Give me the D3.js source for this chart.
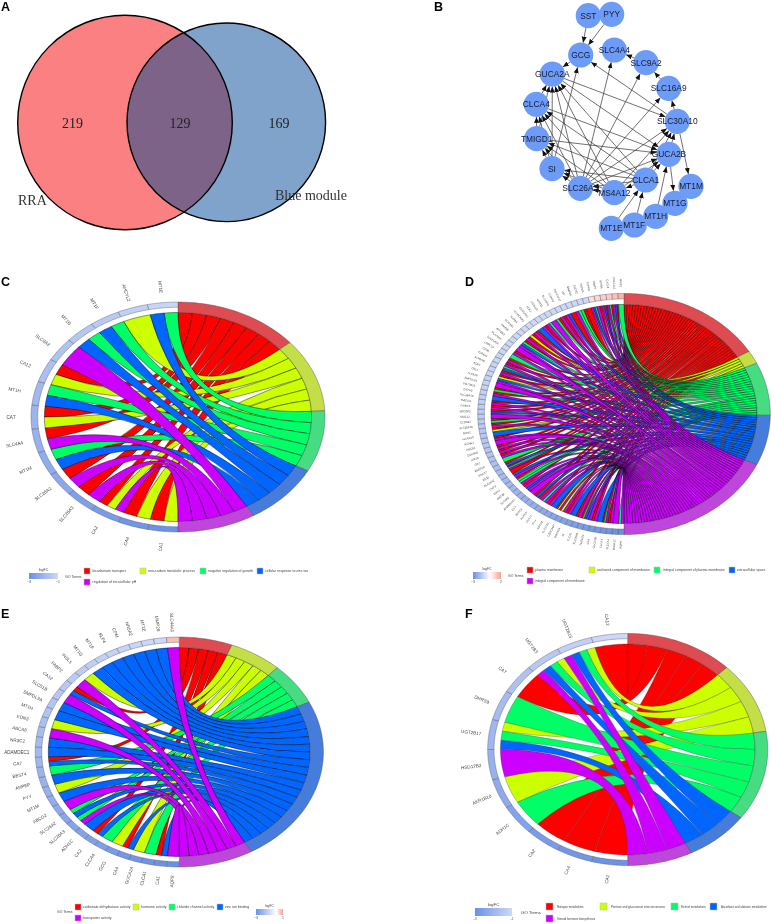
<!DOCTYPE html>
<html><head><meta charset="utf-8">
<script src="https://cdnjs.cloudflare.com/ajax/libs/d3/7.8.5/d3.min.js"></script>
<style>
html,body{margin:0;padding:0;background:#fff}
svg{display:block;filter:blur(0.35px)}
text{font-family:"Liberation Sans",Arial,sans-serif}
</style></head><body><svg id="fig" width="771" height="924"></svg>
<script>
/* ---------- Panel A: Venn ---------- */
const vennCounts = [219, 129, 169];
const vennLabels = ["RRA", "Blue module"];

/* ---------- Panel B: network ---------- */
const netNodes = ["SST","PYY","GCG","SLC4A4","SLC9A2","GUCA2A","SLC16A9","CLCA4","SLC30A10","TMIGD1","GUCA2B","SI","SLC26A3","MS4A12","CLCA1","MT1M","MT1G","MT1H","MT1F","MT1E"];
const netEdges = [
 ["SST","GCG"],["PYY","GCG"],["GCG","GUCA2A"],["SLC9A2","SLC4A4"],["SLC16A9","SLC9A2"],["SLC30A10","SLC16A9"],["SLC30A10","GCG"],
 ["CLCA4","GUCA2A"],["TMIGD1","GUCA2A"],["TMIGD1","CLCA4"],["SI","TMIGD1"],["SI","CLCA4"],["SI","GUCA2A"],["SI","GCG"],
 ["SLC26A3","SI"],["SLC26A3","TMIGD1"],["SLC26A3","CLCA4"],["SLC26A3","GUCA2A"],["SLC26A3","SLC4A4"],["SLC26A3","SLC9A2"],["SLC26A3","SLC16A9"],["SLC26A3","SLC30A10"],["SLC26A3","GUCA2B"],
 ["MS4A12","SLC26A3"],["MS4A12","SI"],["MS4A12","TMIGD1"],["MS4A12","CLCA4"],["MS4A12","GUCA2A"],["MS4A12","SLC30A10"],["MS4A12","GUCA2B"],
 ["CLCA1","MS4A12"],["CLCA1","SLC26A3"],["CLCA1","SI"],["CLCA1","TMIGD1"],["CLCA1","CLCA4"],["CLCA1","GUCA2A"],["CLCA1","GUCA2B"],["CLCA1","SLC30A10"],
 ["GUCA2B","SLC30A10"],["GUCA2A","GUCA2B"],["GUCA2A","SLC30A10"],["CLCA4","GUCA2B"],["TMIGD1","GUCA2B"],["SLC30A10","MT1M"],["GUCA2B","MT1G"],
 ["MT1H","GUCA2B"],["MT1F","CLCA1"],["MT1E","CLCA1"]
];

/* ---------- Panel C ---------- */
const termsC = ["bicarbonate transport","one-carbon metabolic process","negative regulation of growth","cellular response to zinc ion","regulation of intracellular pH"];
const genesC = ["CA1","CA4","CA2","SLC26A3","SLC26A2","MT1M","SLC4A4","CA7","MT1H","CA12","SLC9A2","MT1G","MT1F","AHCYL2","MT1E"];
const linksC = ["yr","yr","pyr","pr","pr","bg","pr","yr","bg","yr","p","bg","bg","y","bg"];
const logfcC = [-2.95,-2.85,-2.7,-2.6,-2.35,-2.25,-2.1,-2,-1.9,-1.7,-1.6,-1.5,-1.4,-1.25,-1.1];

/* ---------- Panel D ---------- */
const termsD = ["plasma membrane","anchored component of membrane","integral component of plasma membrane","extracellular space","integral component of membrane"];
const genesD = ["AQP8","MS4A12","SLC4A4","CLCA4","GUCA2B","CA4","TMEM72","SLC26A3","CLCA1","SI","GUCA2A","CEACAM7","SLC17A4","ABCG2","PYY","CD177","ANPEP","BEST4","CA7","ADAMDEC1","SLC9A2","ABCA8","EDN3","CHP2","SLC26A2","ZG16","HHLA2","ENTPD5","GP2","ITM2C","CDKN2B","ABCB1","KCNB2","SLC6A19","PADI2","SLC30A10","CLDN23","MUC12","SDCBP2","GCNT2","TMIGD1","SLC38A10","CNTN3","UGT2B15","SMPDL3A","SLC51B","CA12","AQP1","SCNN1B","TSPAN7","CD36","LRRC19","SLC25A34","PLA2G10","ATP2A3","FAM3B","SCARA5","NXPE4","HEPACAM2","CEACAM1","PCK1","LGALS2","GPR15","SLC16A9","CWH43","TNFRSF17","VIP","MMP28","CLCN2","TRPM6","PTPRH","MMP7","INHBA","CXCL8","COL11A1","MMP1"];
const linksD = ["pg","p","pr","pgr","b","pr","pb","pgr","pr","b",
 "pr","py","pyr","b","pr","pg","pr","br","p","pb",
 "pr","pg","gr","pb","r","pgr","br","g","pr","pr",
 "pr","p","pr","b","yr","pr","gr","p","br","pr",
 "pr","b","pr","gr","p","pb","yr","pr","gb","pr",
 "pr","g","pr","p","pb","gr","pr","yr","pr","b",
 "pr","pg","p","gr","pr","pb","r","pg","gr","r",
 "pbg","pr","pbr","pgr","pbr","g"];
const logfcD = [-3,-2.95,-2.9,-2.85,-2.8,-2.75,-2.7,-2.65,-2.6,-2.55,-2.5,-2.45,-2.4,-2.35,-2.3,-2.25,-2.2,-2.15,-2.1,-2.05,-2,-1.95,-1.9,-1.85,-1.8,-1.75,-1.7,-1.65,-1.6,-1.58,-1.55,-1.5,-1.48,-1.45,-1.42,-1.4,-1.38,-1.35,-1.32,-1.3,-1.28,-1.25,-1.22,-1.2,-1.18,-1.15,-1.13,-1.12,-1.1,-1.09,-1.08,-1.07,-1.06,-1.05,-1.04,-1.03,-1.02,-1.01,-1,-1,-1,-1,-1,-1,-1,-1,-1,-1,-1,-1,0.7,0.9,1,1.1,1.3,1.6];

/* ---------- Panel E ---------- */
const termsE = ["carbonate dehydratase activity","hormone activity","chloride channel activity","zinc ion binding","transporter activity"];
const genesE = ["AQP8","CA1","CLCA1","GUCA2A","CA4","GCG","CLCA4","CA2","ADH1C","SLC26A3","SLC26A2","ABCG2","MT1M","PYY","ANPEP","BEST4","CA7","ADAMDEC1","NR3C2","ABCA8","EDN3","MT1H","SMPDL3A","SLC51B","CA12","FABP2","INSL5","MT1G","MT1F","KLF4","CPM","NR5A2","MT1E","MMP28","SLC44A1"];
const linksE = ["p","br","g","y","br","y","g","br","b","pg","bg","p","b","y","b","g","br","b","b","p","y","b","b","p","br","p","y","b","b","b","b","b","b","b","p"];
const logfcE = [-3,-2.95,-2.9,-2.85,-2.8,-2.7,-2.6,-2.55,-2.5,-2.45,-2.4,-2.3,-2.2,-2.1,-2.05,-2,-1.95,-1.9,-1.8,-1.75,-1.7,-1.6,-1.55,-1.5,-1.45,-1.4,-1.35,-1.3,-1.25,-1.2,-1.15,-1.1,-1.05,-1,0.7];

/* ---------- Panel F ---------- */
const termsF = ["Nitrogen metabolism","Pentose and glucuronate interconversions","Retinol metabolism","Ascorbate and aldarate metabolism","Steroid hormone biosynthesis"];
const genesF = ["CA1","CA4","CA2","ADH1C","AKR1B10","HSD17B2","UGT2B17","DHRS9","CA7","UGT2B3","UGT2B15","CA12"];
const linksF = ["r","r","r","g","y","p","bgy","g","r","pbgy","pbgy","r"];
const logfcF = [-2.95,-2.85,-2.7,-2.5,-2.3,-2.1,-1.95,-1.8,-1.65,-1.45,-1.25,-1.05];

/* ---------- styles & layout (not data) ---------- */
const termKeys = "rygbp";
const ribbonColors = ["#FF0000","#CCFF00","#00FF66","#0066FF","#CC00FF"];
const bandColors = ["#DE4B50","#C3DE46","#46DC82","#467DDC","#BE46DC"];
const LOW="#6A90E6", MID="#FFFFFF", HIGH="#F8A294";

const svg = d3.select("#fig");
svg.append("defs");

function panelLetter(s,x,y){
  svg.append("text").attr("x",x).attr("y",y).text(s)
     .attr("font-size",12.5).attr("font-weight","bold").attr("fill","#000");
}
panelLetter("A",1,11); panelLetter("B",434,11);
panelLetter("C",1,286); panelLetter("D",465,286);
panelLetter("E",1,618); panelLetter("F",465,618);

/* ---- Venn ---- */
(function(){
  const g = svg.append("g");
  const totals = [vennCounts[0]+vennCounts[1], vennCounts[1]+vennCounts[2]];
  const rScale = d3.scaleSqrt().domain([0,totals[0]]).range([0,107.3]);
  const cs = [{x:125,y:122.5,r:rScale(totals[0]),f:"#FA8082"},{x:226.3,y:122.3,r:rScale(totals[1]),f:"#7FA3CB"}];
  svg.select("defs").append("clipPath").attr("id","vclip").append("circle").attr("cx",cs[0].x).attr("cy",cs[0].y).attr("r",cs[0].r);
  g.selectAll("circle.f").data(cs).join("circle").attr("class","f").attr("cx",d=>d.x).attr("cy",d=>d.y).attr("r",d=>d.r).attr("fill",d=>d.f);
  g.append("circle").attr("cx",cs[1].x).attr("cy",cs[1].y).attr("r",cs[1].r).attr("fill","#7D6388").attr("clip-path","url(#vclip)");
  g.selectAll("circle.s").data(cs).join("circle").attr("class","s").attr("cx",d=>d.x).attr("cy",d=>d.y).attr("r",d=>d.r).attr("fill","none").attr("stroke","#000").attr("stroke-width",1.4);
  const tx=[72.5,180,279];
  g.selectAll("text.n").data(vennCounts).join("text").attr("class","n").attr("x",(d,i)=>tx[i]).attr("y",128).attr("text-anchor","middle")
    .style("font-family","'Liberation Serif',serif").attr("font-size",14).attr("fill","#222").text(d=>d);
  const lx=[18,275], ly=[205,200];
  g.selectAll("text.l").data(vennLabels).join("text").attr("class","l").attr("x",(d,i)=>lx[i]).attr("y",(d,i)=>ly[i])
    .style("font-family","'Liberation Serif',serif").attr("font-size",14).attr("fill","#333").text(d=>d);
})();

/* ---- Network ---- */
(function(){
  const layout = {SST:[588.3,15.7],PYY:[611.7,14.3],GCG:[580.7,55],SLC4A4:[614.3,50],SLC9A2:[646,62.7],GUCA2A:[552.3,74],SLC16A9:[668.7,88.3],CLCA4:[536.3,104.3],SLC30A10:[677.3,121.3],TMIGD1:[536.7,138.7],GUCA2B:[669,154.3],SI:[552,168.7],CLCA1:[645.7,180],SLC26A3:[580.3,188.3],MS4A12:[614.3,192.7],MT1M:[691,186.3],MT1G:[675,203.3],MT1H:[655.7,216.3],MT1F:[634.3,225],MT1E:[611.3,228.3]};
  const R = 12.6;
  const x = d3.scaleIdentity(), y = d3.scaleIdentity();
  const g = svg.append("g");
  svg.select("defs").append("marker").attr("id","arr").attr("markerUnits","userSpaceOnUse")
    .attr("markerWidth",7).attr("markerHeight",6).attr("refX",6).attr("refY",2.5).attr("orient","auto")
    .append("path").attr("d","M0,0L6,2.5L0,5Z").attr("fill","#111");
  const edge = netEdges.map(([a,b])=>{
    const p=layout[a],q=layout[b],dx=q[0]-p[0],dy=q[1]-p[1],L=Math.hypot(dx,dy);
    return {x1:x(p[0]+dx/L*R),y1:y(p[1]+dy/L*R),x2:x(q[0]-dx/L*R),y2:y(q[1]-dy/L*R)};
  });
  const nd = netNodes.map(n=>({n,x:x(layout[n][0]),y:y(layout[n][1])}));
  g.selectAll("line").data(edge).join("line").attr("x1",d=>d.x1).attr("y1",d=>d.y1).attr("x2",d=>d.x2).attr("y2",d=>d.y2)
    .attr("stroke","#333").attr("stroke-width",0.7).attr("marker-end","url(#arr)");
  g.selectAll("circle").data(nd).join("circle").attr("cx",d=>d.x).attr("cy",d=>d.y).attr("r",R).attr("fill","#6C9CF8");
  g.selectAll("text").data(nd).join("text").attr("x",d=>d.x).attr("y",d=>d.y+3).attr("text-anchor","middle")
    .attr("font-size",8.4).attr("fill","#1a1a2a").text(d=>d.n);
})();

/* ---- GOChord ---- */
function chord(cfg){
  const {genes,links,logfc,terms,cx,cy,rx,ry} = cfg;
  const g = svg.append("g");
  const pt = (t,r)=>[cx+rx*r*Math.sin(t), cy-ry*r*Math.cos(t)];
  const nG = genes.length;
  const geneT = d3.scaleLinear().domain([0,nG]).range([Math.PI,2*Math.PI]);

  const all = [];
  links.forEach((s,i)=>{
    const idx = s.split("").map(c=>termKeys.indexOf(c)).sort((a,b)=>b-a);
    idx.forEach((k,j)=>all.push({gene:i,term:k,g0:i+j/idx.length,g1:i+(j+1)/idx.length}));
  });
  const N = all.length;
  const termT = d3.scaleLinear().domain([0,N]).range([0,Math.PI]);
  const counts = terms.map((_,k)=>all.filter(d=>d.term===k).length);
  const starts = [0].concat(Array.from(d3.cumsum(counts)));
  terms.forEach((_,k)=>{
    all.filter(d=>d.term===k).sort((a,b)=>b.gene-a.gene).forEach((d,j)=>{d.t0=starts[k]+j;d.t1=starts[k]+j+1;});
  });

  const arcTo=(p,a,b,r)=>{const n=Math.max(2,Math.ceil(Math.abs(b-a)/0.02));
    for(let i=0;i<=n;i++){const q=pt(a+(b-a)*i/n,r); if(i===0&&p._first){p.moveTo(q[0],q[1]);p._first=false;}else p.lineTo(q[0],q[1]);}};
  const ribbon=d=>{const p=d3.path();p._first=true;
    const a0=geneT(d.g0),a1=geneT(d.g1),b0=termT(d.t0),b1=termT(d.t1);
    arcTo(p,a0,a1,1);
    const s=pt(b0,1);p.quadraticCurveTo(cx,cy,s[0],s[1]);
    arcTo(p,b0,b1,1);
    const e=pt(a0,1);p.quadraticCurveTo(cx,cy,e[0],e[1]);p.closePath();return p.toString();};
  const band=(a,b,r0,r1)=>{const p=d3.path();p._first=true;arcTo(p,a,b,r1);arcTo(p,b,a,r0);p.closePath();return p.toString();};

  g.append("g").selectAll("path").data(all.slice().sort((a,b)=>a.term-b.term||b.gene-a.gene)).join("path")
    .attr("d",ribbon).attr("fill",d=>ribbonColors[d.term]).attr("stroke",cfg.lineCol||"#000").attr("stroke-width",cfg.lw||0.42);

  g.append("g").selectAll("path").data(terms).join("path")
    .attr("d",(d,k)=>band(termT(starts[k]),termT(starts[k+1]),1,1.1))
    .attr("fill",(d,k)=>bandColors[k]).attr("stroke","#444").attr("stroke-width",0.4);

  const lo=cfg.lo, hi=cfg.hi;
  const colour=d3.scaleLinear().domain([lo,0,Math.max(hi,0.0001)]).range([LOW,MID,HIGH]);
  g.append("g").selectAll("path").data(genes).join("path")
    .attr("d",(d,i)=>band(geneT(i),geneT(i+1),1.05,1.1))
    .attr("fill",(d,i)=>colour(logfc[i])).attr("stroke","#556").attr("stroke-width",0.4);

  g.append("g").selectAll("text").data(genes).join("text")
    .attr("transform",(d,i)=>{const t=geneT(i+0.5),q=pt(t,cfg.labR);
      return `translate(${q[0]},${q[1]}) rotate(${(t-1.5*Math.PI)*180/Math.PI})`;})
    .attr("text-anchor","middle").attr("dy","0.35em").attr("font-size",cfg.labFs).attr("fill","#444").text(d=>d);

  /* legends */
  const L=cfg.legend, gl=svg.append("g");
  const id="grad"+cfg.id;
  const gr=svg.select("defs").append("linearGradient").attr("id",id);
  const stops = hi>0 ? [[0,lo],[(-lo)/(hi-lo),0],[1,hi]] : [[0,lo],[1,hi]];
  stops.forEach(s=>gr.append("stop").attr("offset",s[0]).attr("stop-color",colour(s[1])));
  gl.append("rect").attr("x",L.rx).attr("y",L.ry).attr("width",L.rw).attr("height",L.rh).attr("fill",`url(#${id})`);
  gl.append("text").attr("x",L.rx+L.rw/2).attr("y",L.ry-2).attr("text-anchor","middle").attr("font-size",L.tf).attr("fill","#444").text("logFC");
  [lo,hi].forEach((v,i)=>gl.append("text").attr("x",L.rx+i*L.rw).attr("y",L.ry+L.rh+4).attr("text-anchor","middle")
     .attr("font-size",L.tk).attr("fill","#444").text(String(v).replace("-","\u2212")));
  gl.append("text").attr("x",L.gx).attr("y",L.gy).attr("font-size",L.tf).attr("fill","#444").text("GO Terms");
  terms.forEach((t,k)=>{
    const sx=L.sx[k], sy=k<4?L.sy[0]:L.sy[1];
    gl.append("rect").attr("x",sx).attr("y",sy).attr("width",L.ss).attr("height",L.ss).attr("fill",ribbonColors[k]).attr("stroke","#bbb").attr("stroke-width",0.5);
    gl.append("text").attr("x",L.lx[k]).attr("y",sy+L.ss/2+1.1).attr("font-size",L.fs).attr("fill","#444").text(t);
  });
}

chord({id:"C",genes:genesC,links:linksC,logfc:logfcC,terms:termsC,cx:178,cy:417,rx:133.6,ry:104.5,labR:1.25,labFs:4.6,lo:-3,hi:-1,
  legend:{rx:29,ry:573,rw:29,rh:6,tf:3.6,tk:3.4,gx:65,gy:578,sx:[84,140,200,257,84],sy:[568,579],ss:6,lx:[92.6,148,208,265,92.6],fs:3.5}});
chord({id:"D",genes:genesD,links:linksD,logfc:logfcD,terms:termsD,cx:624,cy:414,rx:133,ry:109.6,labR:1.195,labFs:2.8,lo:-3,hi:2,
  legend:{rx:473,ry:572,rw:28,rh:7,tf:3.4,tk:3.4,gx:508,gy:577,sx:[527,589,654,729,527],sy:[567,578],ss:6,lx:[535,597,663,737,535],fs:3.4}});
chord({id:"E",genes:genesE,links:linksE,logfc:logfcE,terms:termsE,cx:179.3,cy:752,rx:131,ry:104.5,labR:1.24,labFs:4.5,lo:-3,hi:1,
  legend:{rx:256,ry:909,rw:27,rh:6,tf:3.4,tk:3.4,gx:57,gy:913,sx:[75,133,169,217,75],sy:[904,915],ss:6,lx:[83,141,177,225,83],fs:3.5}});
chord({id:"F",genes:genesF,links:linksF,logfc:logfcF,terms:termsF,cx:627.7,cy:749.5,rx:127.3,ry:105.5,labR:1.24,labFs:4.6,lo:-3,hi:-1,lw:0.3,lineCol:"#333",
  legend:{rx:475,ry:908,rw:37,rh:8,tf:4.4,tk:2.8,gx:521,gy:914,sx:[546,600,671,710,546],sy:[903,915],ss:7,lx:[557,611,681,721,557],fs:2.9}});
</script></body></html>
